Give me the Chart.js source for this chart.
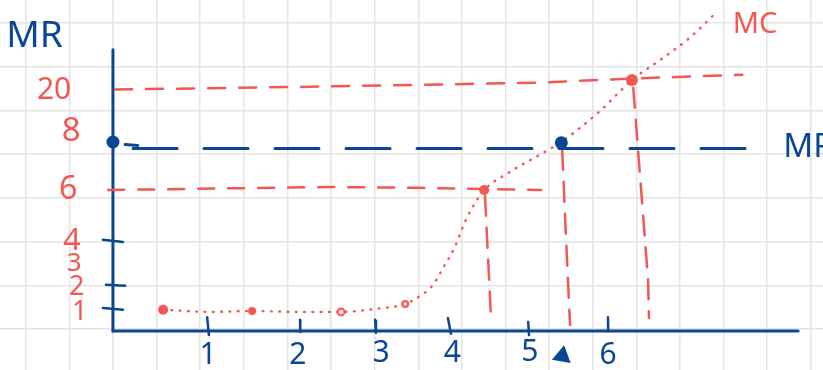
<!DOCTYPE html>
<html>
<head>
<meta charset="utf-8">
<script src="https://cdn.jsdelivr.net/npm/chart.js@4.4.1/dist/chart.umd.min.js"></script>
<style>
  body { margin: 0; background: #fff; }
  #wrap { width: 823px; height: 370px; }
</style>
</head>
<body>
<div id="wrap"><canvas id="sketch" width="823" height="370"></canvas></div>
<script>
// everything is in "grid squares" of the paper, origin where the axes meet
const RED = '#f25853';
const BLUE = '#0b4694';

// MC curve
const mcCurve = [
  [1.15, 0.44], [2.22, 0.39], [3.19, 0.41], [4.29, 0.39], [5.25, 0.39],
  [6.01, 0.46], [6.70, 0.57], [6.97, 0.71], [7.34, 1.01], [7.57, 1.40],
  [7.84, 1.88], [8.07, 2.45], [8.35, 2.96], [8.51, 3.18], [9.11, 3.60],
  [9.79, 3.99], [10.25, 4.26], [11.17, 4.99], [11.90, 5.70], [12.55, 6.16],
  [13.23, 6.67], [13.81, 7.22]
];
const mcDots = [[1.15, 0.44], [3.19, 0.41], [8.51, 3.18], [11.90, 5.70]];
const mcRings = [[5.23, 0.39], [6.70, 0.57]];
const mrDots = [[0, 4.28], [10.28, 4.26]];

// MR = price, flat
const mrLine = [[0.46, 4.13], [14.84, 4.13]];
const mrStub = [[0.28, 4.22], [0.57, 4.2]];

// guide lines
const level20 = [[0.05, 5.48], [4.29, 5.54], [7.73, 5.60], [9.79, 5.64], [11.86, 5.73], [14.43, 5.82]];
const level6 = [[-0.11, 3.18], [4.98, 3.25], [7.04, 3.23], [9.82, 3.18]];
const drop1 = [[8.53, 3.05], [8.67, 0.21]];
const drop2 = [[10.30, 4.10], [10.39, 2.04], [10.48, 0.09]];
const drop3 = [[11.93, 5.52], [12.11, 3.18], [12.27, 1.12], [12.29, 0.25]];

// axes and tick marks (null = pen lifted)
const yAxisLine = [[0, 6.39], [0, -0.05]];
const xAxisLine = [[0, -0.05], [15.71, -0.05]];
const tickMarks = [
  [-0.23, 2.04], [0.23, 1.99], [0.23, null],
  [-0.16, 1.01], [0.28, 0.99], [0.28, null],
  [-0.23, 0.48], [0.23, 0.44], [0.23, null],
  [2.16, 0.27], [2.20, -0.14], [2.20, null],
  [4.29, 0.21], [4.295, -0.07], [4.3, null],
  [6.01, 0.21], [6.03, -0.09], [6.03, null],
  [7.68, 0.25], [7.75, -0.11], [7.75, null],
  [9.52, 0.16], [9.54, -0.14], [9.54, null],
  [11.35, 0.27], [11.355, -0.05]
];
const scribble = [[10.30, -0.62]];

// hand written numbers
const yLabels = ['20', '8', '6', '4', '3', '2', '1'];
const yLabelPos = [[-1.35, 5.45], [-0.96, 4.51], [-1.03, 3.18], [-0.94, 2.02], [-0.89, 1.49], [-0.83, 0.96], [-0.76, 0.39]];
const yLabelSize = [30, 33, 32, 31, 26, 27, 27];
const xLabels = ['1', '2', '3', '4', '5', '6'];
const xLabelPos = [[2.18, -0.60], [4.24, -0.60], [6.15, -0.55], [7.78, -0.55], [9.56, -0.53], [11.35, -0.60]];
const titles = [
  { text: 'MR', pos: [-1.8, 6.7], size: 37, color: BLUE, align: 'center' },
  { text: 'MR', pos: [15.37, 4.16], size: 33, color: BLUE, align: 'left' },
  { text: 'MC', pos: [14.72, 6.96], size: 29, color: RED, align: 'center' }
];

function line(data, color, width, dash) {
  return {
    type: 'line', data: data, borderColor: color, borderWidth: width,
    borderDash: dash || [], borderCapStyle: 'round', pointRadius: 0,
    fill: false, spanGaps: false
  };
}

const handText = {
  id: 'handText',
  afterDatasetsDraw(chart) {
    const ctx = chart.ctx, sx = chart.scales.x, sy = chart.scales.y;
    ctx.save();
    ctx.textBaseline = 'middle';
    const put = (t, p, size, color, align) => {
      ctx.font = size + 'px "Noto Sans", sans-serif';
      ctx.fillStyle = color;
      ctx.textAlign = align;
      ctx.fillText(t, sx.getPixelForValue(p[0]), sy.getPixelForValue(p[1]));
    };
    yLabels.forEach((t, i) => put(t, yLabelPos[i], yLabelSize[i], RED, 'center'));
    xLabels.forEach((t, i) => put(t, xLabelPos[i], 30, BLUE, 'center'));
    titles.forEach(o => put(o.text, o.pos, o.size, o.color, o.align));
    ctx.restore();
  }
};

const mcLine = line(mcCurve, RED, 2.4, [0.8, 7.5]);
mcLine.cubicInterpolationMode = 'monotone';

new Chart(document.getElementById('sketch'), {
  type: 'line',
  data: {
    datasets: [
      { type: 'scatter', data: mrDots, pointRadius: 6.5, pointBackgroundColor: BLUE, pointBorderWidth: 0 },
      { type: 'scatter', data: mcDots, pointRadius: [5, 4, 5, 6], pointBackgroundColor: RED, pointBorderWidth: 0 },
      { type: 'scatter', data: mcRings, pointRadius: [3.5, 3], pointBackgroundColor: '#fbd0ce', pointBorderColor: RED, pointBorderWidth: 2 },
      { type: 'scatter', data: scribble, pointStyle: 'triangle', pointRadius: 9, rotation: 10, pointBackgroundColor: BLUE, pointBorderColor: BLUE, pointBorderWidth: 2 },
      mcLine,
      line(mrLine, BLUE, 3, [44, 27]),
      line(mrStub, BLUE, 3),
      line(level20, RED, 2.5, [17, 14]),
      line(level6, RED, 2.5, [16, 14]),
      line(drop1, RED, 2.5, [20, 12]),
      line(drop2, RED, 2.5, [20, 12]),
      line(drop3, RED, 2.5, [20, 12]),
      line(yAxisLine, BLUE, 3),
      line(xAxisLine, BLUE, 3),
      line(tickMarks, BLUE, 2.5)
    ]
  },
  options: {
    responsive: false,
    animation: false,
    events: [],
    layout: { padding: 0, autoPadding: false },
    plugins: { legend: { display: false }, tooltip: { enabled: false } },
    scales: {
      x: {
        type: 'linear', min: -2.59, max: 16.28,
        border: { display: false },
        grid: { color: '#e4e4e4', lineWidth: 1.5, drawTicks: false },
        ticks: { display: false },
        afterBuildTicks: s => { s.ticks = []; for (let v = -2; v <= 16; v++) s.ticks.push({ value: v }); }
      },
      y: {
        type: 'linear', min: -0.94, max: 7.53,
        border: { display: false },
        grid: { color: '#e4e4e4', lineWidth: 1.5, drawTicks: false },
        ticks: { display: false },
        afterBuildTicks: s => { s.ticks = []; for (let v = 0; v <= 7; v++) s.ticks.push({ value: v }); }
      }
    }
  },
  plugins: [handText]
});
</script>
</body>
</html>
